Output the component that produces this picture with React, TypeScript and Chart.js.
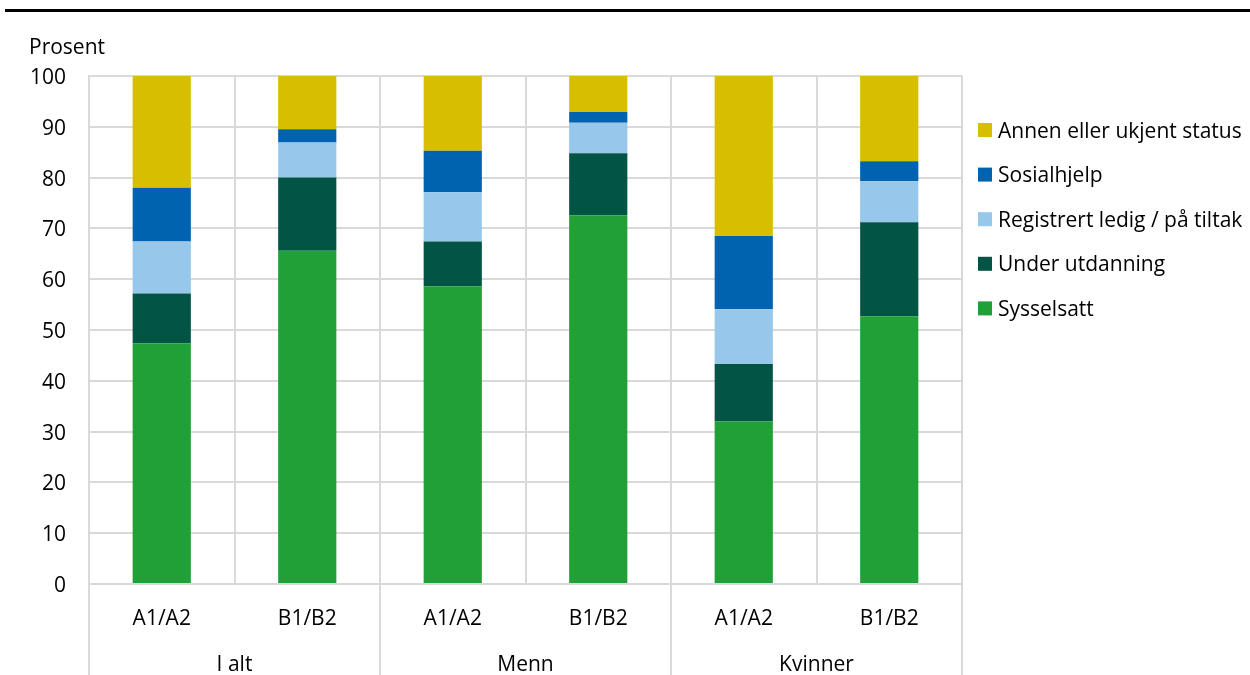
import React, { useEffect, useRef } from "react";
import { Chart, registerables } from "chart.js";

Chart.register(...registerables);

const categories = ["A1/A2", "B1/B2", "A1/A2", "B1/B2", "A1/A2", "B1/B2"];
const groups = ["I alt", "Menn", "Kvinner"];
const yTicks = [0, 10, 20, 30, 40, 50, 60, 70, 80, 90, 100];

const sysselsatt = [47.4, 65.6, 58.6, 72.6, 32.0, 52.7];
const underUtdanning = [9.8, 14.4, 8.8, 12.2, 11.3, 18.5];
const registrertLedig = [10.2, 6.9, 9.7, 6.0, 10.8, 8.1];
const sosialhjelp = [10.6, 2.6, 8.2, 2.1, 14.4, 3.9];
const annen = [22.0, 10.5, 14.7, 7.1, 31.5, 16.8];

const FONT = "'Open Sans', 'Noto Sans', sans-serif";
const FS = 21;
const GRID = "#d9d9d9";

export default function App() {
  const ref = useRef<HTMLCanvasElement | null>(null);

  useEffect(() => {
    document.body.style.margin = "0";
    const canvas = ref.current;
    if (!canvas) return;

    const overlay = {
      id: "overlay",
      afterDraw(chart: any) {
        const ctx = chart.ctx;
        const area = chart.chartArea;
        const xs = chart.scales.x;
        const H = chart.height;
        ctx.save();
        // top black rule
        ctx.fillStyle = "#000";
        ctx.fillRect(5, 9, chart.width - 5, 3);
        // axis title
        ctx.font = `${FS}px ${FONT}`;
        ctx.fillStyle = "#000";
        ctx.textAlign = "left";
        ctx.textBaseline = "alphabetic";
        ctx.fillText("Prosent", 29, 53.5);
        // group separators below plot
        ctx.strokeStyle = GRID;
        ctx.lineWidth = 2;
        const n = categories.length;
        const bounds: number[] = [];
        for (let i = 0; i <= n; i += 2) {
          let x: number;
          if (i === 0) x = area.left;
          else if (i === n) x = area.right;
          else x = (xs.getPixelForValue(i - 1) + xs.getPixelForValue(i)) / 2;
          bounds.push(x);
          ctx.beginPath();
          ctx.moveTo(x, area.bottom);
          ctx.lineTo(x, H);
          ctx.stroke();
        }
        // group labels
        ctx.textAlign = "center";
        ctx.fillStyle = "#000";
        groups.forEach((g, gi) => {
          const cx = (bounds[gi] + bounds[gi + 1]) / 2;
          ctx.fillText(g, cx, 670.5);
        });
        // legend (reverse order)
        const ds = chart.data.datasets;
        ctx.textAlign = "left";
        for (let k = 0; k < ds.length; k++) {
          const d = ds[ds.length - 1 - k];
          const top = 123 + k * 44.6;
          ctx.fillStyle = d.backgroundColor;
          ctx.fillRect(978, top, 14, 14);
          ctx.fillStyle = "#000";
          ctx.fillText(d.label, 998, top + 14.5);
        }
        ctx.restore();
      },
    };

    const chart = new Chart(canvas, {
      type: "bar",
      data: {
        labels: categories,
        datasets: [
          { label: "Sysselsatt", data: sysselsatt, backgroundColor: "#21A038" },
          { label: "Under utdanning", data: underUtdanning, backgroundColor: "#025444" },
          { label: "Registrert ledig / på tiltak", data: registrertLedig, backgroundColor: "#97C7EB" },
          { label: "Sosialhjelp", data: sosialhjelp, backgroundColor: "#0063AF" },
          { label: "Annen eller ukjent status", data: annen, backgroundColor: "#D7BF00" },
        ],
      },
      options: {
        responsive: false,
        animation: false,
        layout: { padding: { top: 76, right: 288, bottom: 0, left: 0 } },
        datasets: { bar: { categoryPercentage: 0.8, barPercentage: 0.5, borderWidth: 0 } },
        plugins: { legend: { display: false }, tooltip: { enabled: false } },
        scales: {
          x: {
            stacked: true,
            grid: { color: GRID, lineWidth: 2, drawTicks: false, offset: true },
            border: { display: true, color: GRID, width: 2 },
            ticks: { font: { family: FONT, size: FS }, color: "#000", padding: 22, maxRotation: 0 },
            afterFit: (s: any) => { s.height = 91; },
          },
          y: {
            stacked: true,
            min: 0,
            max: 100,
            grid: { color: GRID, lineWidth: 2, drawTicks: false },
            border: { display: true, color: GRID, width: 2 },
            afterBuildTicks: (s: any) => { s.ticks = yTicks.map((v) => ({ value: v })); },
            ticks: { font: { family: FONT, size: FS }, color: "#000", padding: 23, labelOffset: 2 },
            afterFit: (s: any) => { s.width = 89; },
          },
        },
      },
      plugins: [overlay],
    });
    return () => chart.destroy();
  }, []);

  return <canvas ref={ref} width={1250} height={675} style={{ display: "block" }} />;
}
